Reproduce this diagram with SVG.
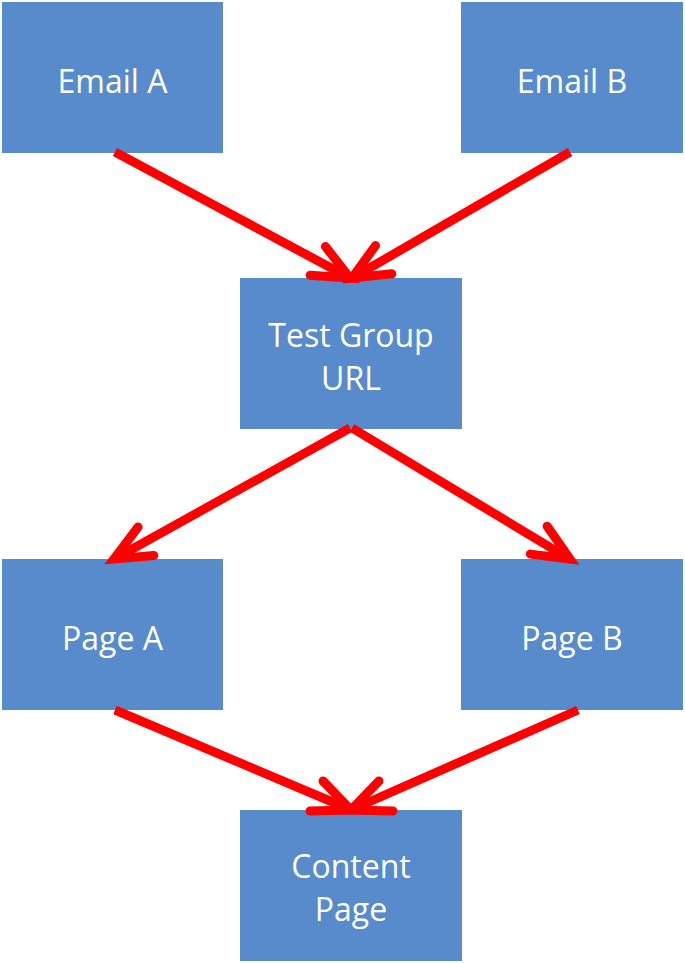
<svg xmlns="http://www.w3.org/2000/svg" width="685" height="963" viewBox="0 0 685 963">
<style>
.box{fill:#588BCB}
.lbl{font-family:"Open Sans","Liberation Sans",sans-serif;font-size:32px;fill:#fff;text-anchor:middle}
.ln{stroke:#ff0000;stroke-width:9;fill:none;stroke-linecap:butt}
.hd{stroke:#ff0000;stroke-width:9;fill:none;stroke-linecap:round;stroke-linejoin:miter;stroke-miterlimit:10}
</style>
<rect width="685" height="963" fill="#fff"/>
<g id="emailA"><rect class="box" x="2" y="2" width="221" height="151"/><text class="lbl" x="112.5" y="93">Email A</text></g>
<g id="emailB"><rect class="box" x="461" y="2" width="222" height="151"/><text class="lbl" x="572" y="93">Email B</text></g>
<g id="testGroup"><rect class="box" x="240" y="278" width="222" height="151"/><text class="lbl" x="351" y="347">Test Group</text><text class="lbl" x="351" y="390">URL</text></g>
<g id="pageA"><rect class="box" x="2" y="559" width="221" height="151"/><text class="lbl" x="112.5" y="650">Page A</text></g>
<g id="pageB"><rect class="box" x="461" y="559" width="222" height="151"/><text class="lbl" x="572" y="650">Page B</text></g>
<g id="content"><rect class="box" x="240" y="810" width="222" height="151"/><text class="lbl" x="351" y="878">Content</text><text class="lbl" x="351" y="921">Page</text></g>
<g id="connectors">
<line class="ln" x1="115" y1="152" x2="348" y2="277"/>
<polyline class="hd" points="325.4,246.5 350,278 310.1,275.2"/>
<line class="ln" x1="570" y1="152" x2="354" y2="277"/>
<polyline class="hd" points="375.5,245.6 352,278 391.8,273.8"/>
<line class="ln" x1="350" y1="428" x2="116" y2="558"/>
<polyline class="hd" points="138.1,527 114,559 153.8,555.5"/>
<line class="ln" x1="352" y1="428" x2="568" y2="558"/>
<polyline class="hd" points="547.1,526.2 570,559 530.3,554.1"/>
<line class="ln" x1="115" y1="710" x2="349" y2="809"/>
<polyline class="hd" points="323,781 351,810 310,811"/>
<line class="ln" x1="578" y1="710" x2="353" y2="809"/>
<polyline class="hd" points="379,781 351,810 393,811"/>
</g>
</svg>
